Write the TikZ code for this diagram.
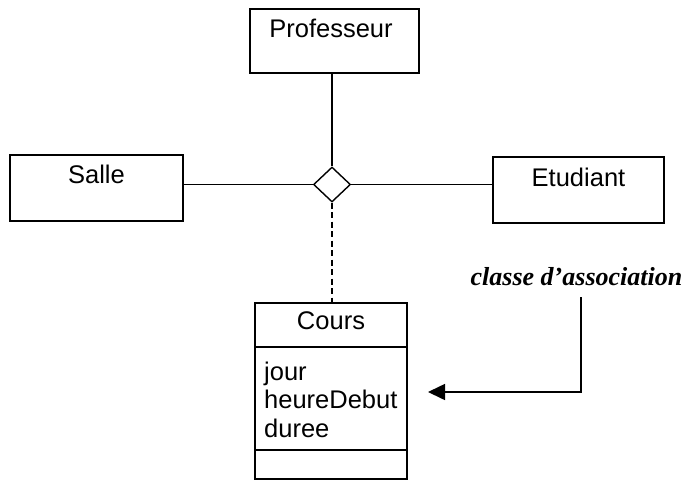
\documentclass[tikz,border=0pt]{standalone}
\usepackage{fontspec}
\setmainfont{Liberation Sans}
\newfontfamily\notefont{Liberation Serif}
\usetikzlibrary{arrows.meta,shapes.geometric}
\begin{document}
\begin{tikzpicture}[x=1pt,y=-1pt,
  cls/.style={draw,line width=1.6pt,rectangle,inner sep=0pt},
  lbl/.style={inner sep=0pt,anchor=base,font=\fontsize{25.5}{28.5}\selectfont},
  conn/.style={line width=1.6pt},
  assocstyle/.style={draw,line width=1.4pt,diamond,inner sep=0pt,minimum width=37pt,minimum height=35pt}]
\useasboundingbox (0,0) rectangle (690,480);
% class boxes
\node[cls,minimum width=169pt,minimum height=64pt] (prof) at (334.5,41) {};
\node[lbl] (proft) at (331,37) {Professeur};
\node[cls,minimum width=173pt,minimum height=66pt] (salle) at (96.5,188) {};
\node[lbl] (sallet) at (96.5,183) {Salle};
\node[cls,minimum width=171pt,minimum height=66pt] (etud) at (578.5,190) {};
\node[lbl] (etudt) at (578.5,186) {Etudiant};
\node[assocstyle] (assoc) at (332,184.5) {};
% association class
\node[cls,minimum width=152pt,minimum height=176pt] (cours) at (331,391) {};
\node[lbl] (courst) at (331,329) {Cours};
\node[inner sep=0pt,anchor=base west,align=left,font=\fontsize{25.5}{28.5}\selectfont] (attrs) at (264,437) {jour\\heureDebut\\duree};
\coordinate (sep1) at (0,347);
\coordinate (sep2) at (0,450);
\draw[conn] (cours.west |- sep1) -- (cours.east |- sep1);
\draw[conn] (cours.west |- sep2) -- (cours.east |- sep2);
% connectors
\draw[conn] (prof.south -| assoc) -- (assoc.north);
\draw[conn] (salle.east |- assoc) -- (assoc.west);
\draw[conn] (assoc.east) -- (etud.west |- assoc);
\draw[conn,dash pattern=on 6pt off 3.5pt] (assoc.south) -- (cours.north -| assoc);
% note
\node[inner sep=0pt,anchor=base,font=\notefont\bfseries\itshape\fontsize{26}{30}\selectfont] (note) at (576.5,285) {classe d’association};
\coordinate (tip) at (428,392);
\coordinate (noteline) at (581,297);
\draw[conn,-{Triangle[length=17pt,width=16pt]}] (noteline) |- (tip);
\end{tikzpicture}
\end{document}
